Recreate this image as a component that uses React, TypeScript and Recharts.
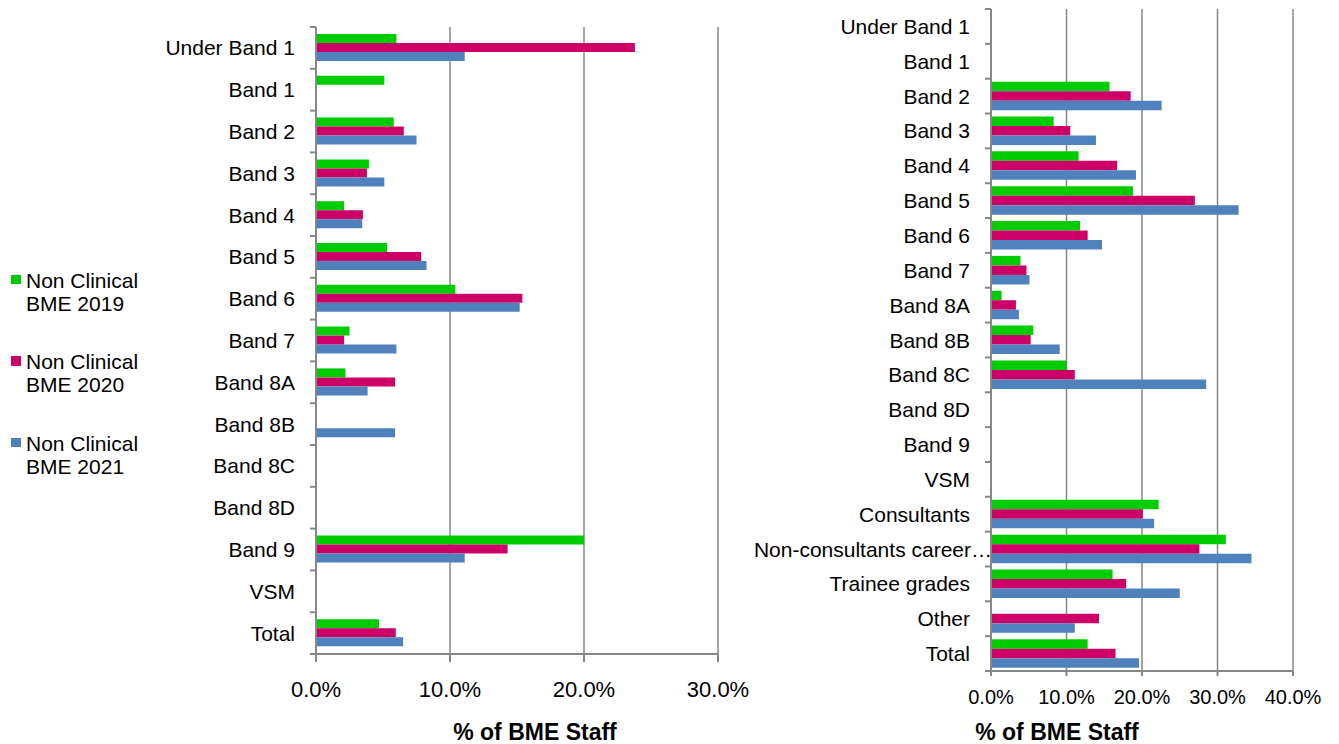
import React from "react";
import { BarChart, Bar, XAxis, YAxis, CartesianGrid, Label } from "recharts";

// Pay-band categories and % of BME staff per year (non-clinical / all staff)
const bandCategories = [
  "Under Band 1", "Band 1", "Band 2", "Band 3", "Band 4", "Band 5", "Band 6",
  "Band 7", "Band 8A", "Band 8B", "Band 8C", "Band 8D", "Band 9", "VSM", "Total",
];
const band2019 = [6.0, 5.1, 5.8, 3.95, 2.1, 5.3, 10.4, 2.5, 2.2, null, null, null, 20.0, null, 4.7];
const band2020 = [23.8, null, 6.55, 3.8, 3.5, 7.85, 15.4, 2.1, 5.9, null, null, null, 14.3, null, 5.95];
const band2021 = [11.1, null, 7.5, 5.1, 3.45, 8.25, 15.2, 6.0, 3.85, 5.9, null, null, 11.1, null, 6.5];

const gradeCategories = [
  "Under Band 1", "Band 1", "Band 2", "Band 3", "Band 4", "Band 5", "Band 6",
  "Band 7", "Band 8A", "Band 8B", "Band 8C", "Band 8D", "Band 9", "VSM",
  "Consultants", "Non-consultants career…", "Trainee grades", "Other", "Total",
];
const grade2019 = [null, null, 15.7, 8.3, 11.6, 18.8, 11.8, 3.9, 1.4, 5.6, 10.0, null, null, null, 22.2, 31.1, 16.1, null, 12.8];
const grade2020 = [null, null, 18.5, 10.5, 16.7, 27.0, 12.8, 4.7, 3.3, 5.25, 11.1, null, null, null, 20.1, 27.6, 17.9, 14.3, 16.5];
const grade2021 = [null, null, 22.6, 13.9, 19.2, 32.8, 14.7, 5.1, 3.7, 9.1, 28.5, null, null, null, 21.6, 34.5, 25.0, 11.1, 19.6];

const leftTicks = [0, 10, 20, 30];
const rightTicks = [0, 10, 20, 30, 40];

const series = [
  { key: "y2019", name: "Non Clinical BME 2019", color: "#00CC00" },
  { key: "y2020", name: "Non Clinical BME 2020", color: "#CC0066" },
  { key: "y2021", name: "Non Clinical BME 2021", color: "#4F81BD" },
];

const AXIS = "#878787";
const FONT = "'Liberation Sans', Arial, sans-serif";

const buildRows = (
  categories: string[],
  a: (number | null)[],
  b: (number | null)[],
  c: (number | null)[]
) => categories.map((name, i) => ({ name, y2019: a[i], y2020: b[i], y2021: c[i] }));

const leftRows = buildRows(bandCategories, band2019, band2020, band2021);
const rightRows = buildRows(gradeCategories, grade2019, grade2020, grade2021);

// Excel style category axis: label centred in the band, tick marks on the band edges
const categoryTick = (band: number, count: number) => (props: any) => {
  const { x, y, payload, index } = props;
  const label = String(payload.value);
  const half = band / 2;
  const truncated = label.endsWith("…");
  return (
    <g>
      <line x1={x - 6} x2={x} y1={y - half} y2={y - half} stroke={AXIS} strokeWidth={2} />
      {index === count - 1 && (
        <line x1={x - 6} x2={x} y1={y + half} y2={y + half} stroke={AXIS} strokeWidth={2} />
      )}
      <text
        x={truncated ? x + 1 : x - 21}
        y={y}
        textAnchor="end"
        dominantBaseline="central"
        fontSize={21}
        fontFamily={FONT}
        fill="#000"
      >
        {label}
      </text>
    </g>
  );
};

const percentTick = (fontSize: number) => (props: any) => {
  const { x, y, payload } = props;
  return (
    <text x={x} y={y} textAnchor="middle" dominantBaseline="central" fontSize={fontSize} fontFamily={FONT} fill="#000">
      {`${Number(payload.value).toFixed(1)}%`}
    </text>
  );
};

interface PanelProps {
  rows: ReturnType<typeof buildRows>;
  width: number;
  height: number;
  top: number;
  plotBottom: number;
  yAxisWidth: number;
  right: number;
  max: number;
  ticks: number[];
  tickSize: number;
  tickMargin: number;
  tickFont: number;
  barSize: number;
  titleDx: number;
}

function Panel({
  rows, width, height, top, plotBottom, yAxisWidth, right, max, ticks,
  tickSize, tickMargin, tickFont, barSize, titleDx,
}: PanelProps) {
  const axisHeight = height - plotBottom;
  const band = (plotBottom - top) / rows.length;
  return (
    <BarChart
      width={width}
      height={height}
      data={rows}
      layout="vertical"
      barGap={0}
      margin={{ top, right, bottom: 0, left: 0 }}
    >
      <CartesianGrid horizontal={false} stroke={AXIS} strokeWidth={1.5} />
      <XAxis
        type="number"
        domain={[0, max]}
        ticks={ticks}
        allowDataOverflow
        height={axisHeight}
        axisLine={{ stroke: AXIS, strokeWidth: 2 }}
        tickLine={{ stroke: AXIS, strokeWidth: 2 }}
        tickSize={tickSize}
        tickMargin={tickMargin}
        tick={percentTick(tickFont)}
        interval={0}
      >
        <Label
          value="% of BME Staff"
          position="insideBottom"
          offset={4}
          dx={titleDx}
          style={{ fontSize: 23, fontWeight: 700, fontFamily: FONT, fill: "#000" }}
        />
      </XAxis>
      <YAxis
        type="category"
        dataKey="name"
        width={yAxisWidth}
        interval={0}
        tickSize={0}
        tickMargin={0}
        axisLine={{ stroke: AXIS, strokeWidth: 2 }}
        tickLine={false}
        tick={categoryTick(band, rows.length)}
      />
      {series.map((s) => (
        <Bar key={s.key} dataKey={s.key} name={s.name} fill={s.color} barSize={barSize} isAnimationActive={false} />
      ))}
    </BarChart>
  );
}

function SeriesLegend() {
  const tops = [268.5, 350, 431.5];
  return (
    <>
      {series.map((s, i) => {
        const [first, ...rest] = s.name.split(" ");
        const line1 = `${first} ${rest[0]}`;
        const line2 = rest.slice(1).join(" ");
        return (
          <div key={s.key} style={{ position: "absolute", left: 0, top: tops[i], fontFamily: FONT, fontSize: 21, lineHeight: "23px", color: "#000" }}>
            <div style={{ position: "absolute", left: 11, top: 6, width: 9.5, height: 9.5, background: s.color }} />
            <div style={{ position: "absolute", left: 26, top: 0, whiteSpace: "nowrap" }}>
              {line1}
              <br />
              {line2}
            </div>
          </div>
        );
      })}
    </>
  );
}

export default function App() {
  return (
    <div style={{ position: "absolute", left: 0, top: 0, width: 1339, height: 744, background: "#fff", overflow: "hidden" }}>
      <div style={{ position: "absolute", left: 0, top: 0 }}>
        <Panel
          rows={leftRows}
          width={760}
          height={744}
          top={27}
          plotBottom={654}
          yAxisWidth={316}
          right={42}
          max={30}
          ticks={leftTicks}
          tickSize={8}
          tickMargin={27}
          tickFont={22}
          barSize={9}
          titleDx={18}
        />
      </div>
      <div style={{ position: "absolute", left: 740, top: 0 }}>
        <Panel
          rows={rightRows}
          width={599}
          height={744}
          top={9}
          plotBottom={671}
          yAxisWidth={251}
          right={46}
          max={40}
          ticks={rightTicks}
          tickSize={5}
          tickMargin={21}
          tickFont={20}
          barSize={9.5}
          titleDx={-85}
        />
      </div>
      <SeriesLegend />
    </div>
  );
}
